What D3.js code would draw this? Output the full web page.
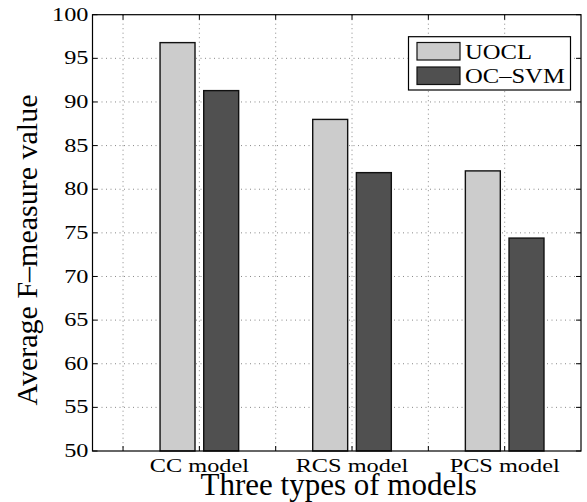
<!DOCTYPE html>
<meta charset="utf-8">
<head>
  <meta charset="UTF-8" />
  <title>Average F-measure</title>
  <script src="https://d3js.org/d3.v7.min.js"></script>
</head>
<style>
  body { margin: 0; background: #fff; }
  text { font-family: "Liberation Serif", "Times New Roman", serif; fill: #000; }
</style>
<div id="my_dataviz"></div>
<script>

  // data
  var categories = ["CC model", "RCS model", "PCS model"]
  var seriesNames = ["UOCL", "OC–SVM"]
  var uoclValues = [96.8, 88.0, 82.1]
  var ocsvmValues = [91.3, 81.9, 74.4]
  var seriesColors = ["#cccccc", "#505050"]
  var yTickValues = [50, 55, 60, 65, 70, 75, 80, 85, 90, 95, 100]
  var xTickValues = [0.5, 1, 1.5, 2, 2.5, 3]

  function drawChart() {
  var width = 587, height = 502
  // plot box (window.top is read-only, so keep these local)
  var pLeft = 92.5, pRight = 581, pTop = 14.7, pBottom = 451

  var svg = d3.select("#my_dataviz")
    .append("svg")
      .attr("width", width)
      .attr("height", height)

  var x = d3.scaleLinear().domain([0.3, 3.5]).range([pLeft, pRight])
  var y = d3.scaleLinear().domain([50, 100]).range([pBottom, pTop])

  // grid (below bars, like matlab)
  svg.append("g").selectAll("line")
    .data(yTickValues.slice(1, -1))
    .join("line")
      .attr("x1", pLeft).attr("x2", pRight)
      .attr("y1", d => y(d)).attr("y2", d => y(d))
      .style("stroke", "#888")
      .style("stroke-width", 1)
      .style("stroke-dasharray", "1,3.5")

  svg.append("g").selectAll("line")
    .data(xTickValues)
    .join("line")
      .attr("x1", d => x(d)).attr("x2", d => x(d))
      .attr("y1", pTop).attr("y2", pBottom)
      .style("stroke", "#888")
      .style("stroke-width", 1)
      .style("stroke-dasharray", "1,3.5")

  // grouped bars
  var barWidth = 0.229
  var offsets = [-0.143, 0.143]
  var allSeries = [uoclValues, ocsvmValues]

  allSeries.forEach(function (vals, s) {
    svg.append("g").selectAll("rect")
      .data(vals)
      .join("rect")
        .attr("x", (d, i) => x(i + 1 + offsets[s] - barWidth / 2))
        .attr("width", x(barWidth) - x(0))
        .attr("y", d => y(d))
        .attr("height", d => y(50) - y(d))
        .style("fill", seriesColors[s])
        .style("stroke", "#111")
        .style("stroke-width", 1.4)
  })

  // axes box
  svg.append("rect")
    .attr("x", pLeft).attr("y", pTop)
    .attr("width", pRight - pLeft).attr("height", pBottom - pTop)
    .style("fill", "none")
    .style("stroke", "#000")
    .style("stroke-width", 1.2)

  // inward ticks
  var tickLen = 5
  yTickValues.forEach(function (v) {
    svg.append("line").attr("x1", pLeft).attr("x2", pLeft + tickLen)
      .attr("y1", y(v)).attr("y2", y(v)).style("stroke", "#000")
    svg.append("line").attr("x1", pRight - tickLen).attr("x2", pRight)
      .attr("y1", y(v)).attr("y2", y(v)).style("stroke", "#000")
  })
  xTickValues.forEach(function (v) {
    svg.append("line").attr("x1", x(v)).attr("x2", x(v))
      .attr("y1", pBottom).attr("y2", pBottom - tickLen).style("stroke", "#000")
    svg.append("line").attr("x1", x(v)).attr("x2", x(v))
      .attr("y1", pTop).attr("y2", pTop + tickLen).style("stroke", "#000")
  })

  // tick labels (the figure is stretched sideways)
  svg.append("g").selectAll("text")
    .data(yTickValues)
    .join("text")
      .attr("transform", d => "translate(" + (pLeft - 4) + "," + y(d) + ") scale(1.35,1)")
      .attr("text-anchor", "end")
      .attr("dy", "0.34em")
      .style("font-size", "18px")
      .text(d => d)

  // only the whole-number ticks carry a category name
  svg.append("g").selectAll("text")
    .data(categories)
    .join("text")
      .attr("transform", (d, i) => "translate(" + x(i + 1) + "," + 472 + ") scale(1.35,1)")
      .attr("text-anchor", "middle")
      .style("font-size", "18px")
      .text(d => d)

  // axis titles
  svg.append("text")
    .attr("x", (pLeft + pRight) / 2 + 2)
    .attr("y", 495)
    .attr("text-anchor", "middle")
    .style("font-size", "31px")
    .text("Three types of models")

  svg.append("text")
    .attr("transform", "translate(37," + 250 + ") rotate(-90)")
    .attr("text-anchor", "middle")
    .style("font-size", "30px")
    .text("Average F–measure value")

  // legend
  var legend = svg.append("g")
  legend.append("rect")
    .attr("x", 408.5).attr("y", 36.7)
    .attr("width", 162).attr("height", 53.3)
    .style("fill", "#fff")
    .style("stroke", "#000")
    .style("stroke-width", 1.2)

  seriesNames.forEach(function (name, i) {
    legend.append("rect")
      .attr("x", 417).attr("y", 42.5 + i * 24.5)
      .attr("width", 43).attr("height", 17.5)
      .style("fill", seriesColors[i])
      .style("stroke", "#111")
      .style("stroke-width", 1.2)
    legend.append("text")
      .attr("transform", "translate(465," + (58.5 + i * 24.8) + ") scale(1.23,1)")
      .style("font-size", "20px")
      .text(name)
  })
  }

  drawChart()

</script>
